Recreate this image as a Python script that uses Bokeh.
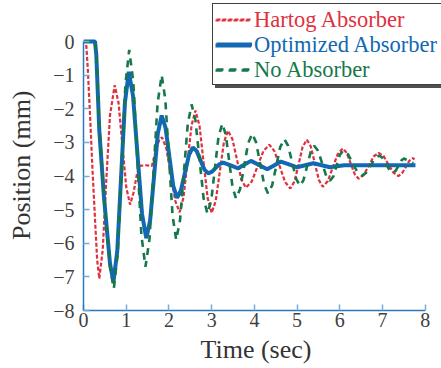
from bokeh.plotting import figure
from bokeh.models import Range1d, FixedTicker, Legend, LegendItem
from bokeh.embed import file_html
from bokeh.resources import INLINE

# ---- data ----
x_ticks = [0, 1, 2, 3, 4, 5, 6, 7, 8]
y_ticks = [-8, -7, -6, -5, -4, -3, -2, -1, 0]

series_labels = ["Hartog Absorber", "Optimized Absorber", "No Absorber"]
x_title = "Time (sec)"
y_title = "Position (mm)"

t_hartog = [0, 0.06, 0.10, 0.15, 0.21, 0.27, 0.32, 0.37, 0.45, 0.53, 0.62, 0.73,
            0.82, 0.91, 1.00, 1.09, 1.17, 1.25, 1.32, 1.45, 1.60, 1.70, 1.78, 1.84,
            1.94, 2.045, 2.15, 2.25, 2.34, 2.435, 2.53, 2.62, 2.715, 2.81, 2.905, 3.00,
            3.095, 3.19, 3.285, 3.38, 3.485, 3.59, 3.695, 3.80, 3.94, 4.075, 4.21, 4.35,
            4.47, 4.595, 4.72, 4.84, 4.94, 5.035, 5.13, 5.23, 5.32, 5.415, 5.51, 5.60,
            5.72, 5.835, 5.95, 6.07, 6.16, 6.255, 6.35, 6.44, 6.56, 6.675, 6.79, 6.91,
            7.025, 7.14, 7.255, 7.37, 7.455, 7.54, 7.625, 7.71, 7.75]
pos_hartog = [0, 0, -0.8, -2.1, -3.8, -5.3, -6.5, -7.05, -6.2, -4.2, -2.2, -1.3,
              -1.82, -3.08, -4.33, -4.85, -4.5, -3.95, -3.7, -3.68, -3.7, -3.2, -2.9, -2.85,
              -3.18, -3.97, -4.75, -5.08, -4.64, -3.57, -2.49, -2.05, -2.5, -3.58, -4.65, -5.1,
              -4.74, -3.88, -3.01, -2.65, -2.9, -3.5, -4.1, -4.35, -4.16, -3.71, -3.26, -3.07,
              -3.26, -3.72, -4.18, -4.37, -4.16, -3.65, -3.13, -2.92, -3.12, -3.62, -4.12, -4.32,
              -4.15, -3.75, -3.35, -3.18, -3.31, -3.63, -3.95, -4.08, -3.97, -3.7, -3.42, -3.31,
              -3.41, -3.66, -3.9, -4.0, -3.92, -3.74, -3.55, -3.47, -3.5]

t_opt = [0, 0.27, 0.30, 0.37, 0.48, 0.62, 0.70, 0.79, 0.88, 0.97, 1.06,
         1.16, 1.265, 1.37, 1.47, 1.56, 1.65, 1.74, 1.83, 1.92, 2.01, 2.10, 2.19,
         2.28, 2.375, 2.47, 2.56, 2.65, 2.74, 2.83, 2.92, 3.01, 3.095, 3.18, 3.27,
         3.445, 3.62, 3.77, 3.92, 4.11, 4.30, 4.46, 4.62, 4.81, 5.00, 5.19, 5.38,
         5.575, 5.77, 6.10, 7.00, 7.77]
pos_opt = [0, 0, -0.4, -2.65, -4.64, -6.6, -7.15, -6.24, -4.03, -1.81, -0.9,
           -1.62, -3.38, -5.13, -5.85, -5.32, -4.03, -2.73, -2.2, -2.56, -3.43, -4.29, -4.65,
           -4.43, -3.9, -3.37, -3.15, -3.26, -3.54, -3.81, -3.92, -3.87, -3.76, -3.65, -3.6,
           -3.685, -3.77, -3.66, -3.55, -3.675, -3.8, -3.685, -3.57, -3.655, -3.74, -3.68, -3.62,
           -3.68, -3.74, -3.68, -3.68, -3.68]

t_none = [0, 0.26, 0.30, 0.37, 0.48, 0.62, 0.71, 0.80, 0.89, 0.98, 1.07,
          1.165, 1.26, 1.355, 1.45, 1.545, 1.64, 1.735, 1.83, 1.915, 2.00, 2.085, 2.17,
          2.26, 2.35, 2.44, 2.53, 2.62, 2.715, 2.81, 2.90, 2.99, 3.075, 3.16, 3.25,
          3.33, 3.41, 3.49, 3.57, 3.665, 3.76, 3.855, 3.95, 4.04, 4.135, 4.23, 4.32,
          4.415, 4.51, 4.605, 4.70, 4.79, 4.885, 4.98, 5.07, 5.15, 5.235, 5.32, 5.40,
          5.49, 5.585, 5.68, 5.77, 5.85, 5.925, 6.00, 6.08, 6.19, 6.30, 6.41, 6.52,
          6.62, 6.72, 6.82, 6.92, 7.00, 7.085, 7.17, 7.25, 7.31, 7.375, 7.44, 7.50,
          7.61, 7.72]
pos_none = [0, 0, -0.35, -2.5, -4.6, -6.7, -7.35, -6.31, -3.8, -1.29, -0.25,
            -1.19, -3.48, -5.76, -6.7, -5.87, -3.85, -1.83, -1.0, -1.72, -3.45, -5.18, -5.9,
            -5.31, -3.89, -2.46, -1.87, -2.34, -3.5, -4.65, -5.12, -4.73, -3.78, -2.83, -2.44,
            -2.77, -3.56, -4.34, -4.67, -4.39, -3.71, -3.02, -2.74, -3.0, -3.63, -4.26, -4.52,
            -4.28, -3.71, -3.14, -2.9, -3.1, -3.6, -4.09, -4.29, -4.12, -3.7, -3.27, -3.1,
            -3.25, -3.62, -3.99, -4.14, -4.01, -3.69, -3.37, -3.24, -3.35, -3.62, -3.88, -3.99,
            -3.9, -3.69, -3.48, -3.39, -3.46, -3.65, -3.83, -3.9, -3.84, -3.69, -3.54, -3.48,
            -3.55, -3.62]

# ---- styling ----
RED = "#e0303e"
BLUE = "#1268b3"
GREEN = "#16784a"
AXIS_BLUE = "#2a78bd"
TICK_BLUE = "#74acdc"
TEXT = "#404040"
FONT = "Liberation Serif"
NBSP = "\u00a0"

# frame extends past the axis ends (top and right) so the legend is not clipped;
# the axis lines are bounded to the data ranges 0..8 and -8..0
p = figure(width=441, height=368, output_backend="svg", toolbar_location=None,
           x_range=Range1d(0, 8.38), y_range=Range1d(-8, 1.22),
           min_border_left=83, min_border_right=0, min_border_top=0,
           min_border_bottom=58, background_fill_color="white",
           border_fill_color="white", outline_line_color=None)
p.grid.visible = False

r_h = p.line(t_hartog, pos_hartog, line_color=RED, line_width=2.2, line_dash="4 2")
r_o = p.line(t_opt, pos_opt, line_color=BLUE, line_width=4)
r_n = p.line(t_none, pos_none, line_color=GREEN, line_width=2.6, line_dash="7 6")
rends = [r_h, r_o, r_n]

for ax in (p.xaxis[0], p.yaxis[0]):
    ax.axis_line_color = AXIS_BLUE
    ax.axis_line_width = 1.5
    ax.major_tick_line_color = TICK_BLUE
    ax.major_tick_line_width = 1.5
    ax.major_tick_in = 6
    ax.major_tick_out = 0
    ax.minor_tick_line_color = None
    ax.major_label_text_font = FONT
    ax.major_label_text_font_size = "20px"
    ax.major_label_text_color = TEXT
    ax.axis_label_text_font = FONT
    ax.axis_label_text_font_size = "26px"
    ax.axis_label_text_font_style = "normal"
    ax.axis_label_text_color = "#333333"

p.xaxis.bounds = (x_ticks[0], x_ticks[-1])
p.yaxis.bounds = (y_ticks[0], y_ticks[-1])
p.xaxis.ticker = FixedTicker(ticks=x_ticks)
p.yaxis.ticker = FixedTicker(ticks=y_ticks)
# trailing no-break spaces re-centre the titles on the bounded axes
p.xaxis.axis_label = x_title + NBSP * 2
p.yaxis.axis_label = y_title + NBSP * 3
p.xaxis.major_label_standoff = 2
p.yaxis.major_label_standoff = 9
p.xaxis.axis_label_standoff = 5
p.yaxis.axis_label_standoff = 14

# legend box with shadow (blank labels), then one small legend per entry on top
box = dict(glyph_width=36, glyph_height=24, label_height=24, label_width=190,
           label_standoff=3, padding=3, spacing=1, margin=0,
           label_text_font=FONT, label_text_font_size="16px", label_text_alpha=0)

def items():
    return [LegendItem(label=NBSP, renderers=[r]) for r in rends]

shadow = Legend(items=items(), location=(132, 222), background_fill_color="#505050",
                background_fill_alpha=1, border_line_color="#505050",
                border_line_alpha=1, **box)
main = Legend(items=items(), location=(129, 225), background_fill_color="white",
              background_fill_alpha=1, border_line_color="#404040", border_line_width=1.5,
              border_line_alpha=1, **box)
p.add_layout(shadow)
p.add_layout(main)

colors = [RED, BLUE, GREEN]
for k, (lab, r, c) in enumerate(zip(series_labels, rends, colors)):
    lg = Legend(items=[LegendItem(label=lab, renderers=[r])],
                location=(132, 277 - 25 * k), glyph_width=36, glyph_height=24,
                label_height=24, label_width=20, label_standoff=3, padding=0,
                spacing=0, margin=0, background_fill_alpha=0, border_line_alpha=0,
                label_text_font=FONT, label_text_font_size="22.5px", label_text_color=c)
    p.add_layout(lg)

open("out.html", "w").write(file_html(p, INLINE))
